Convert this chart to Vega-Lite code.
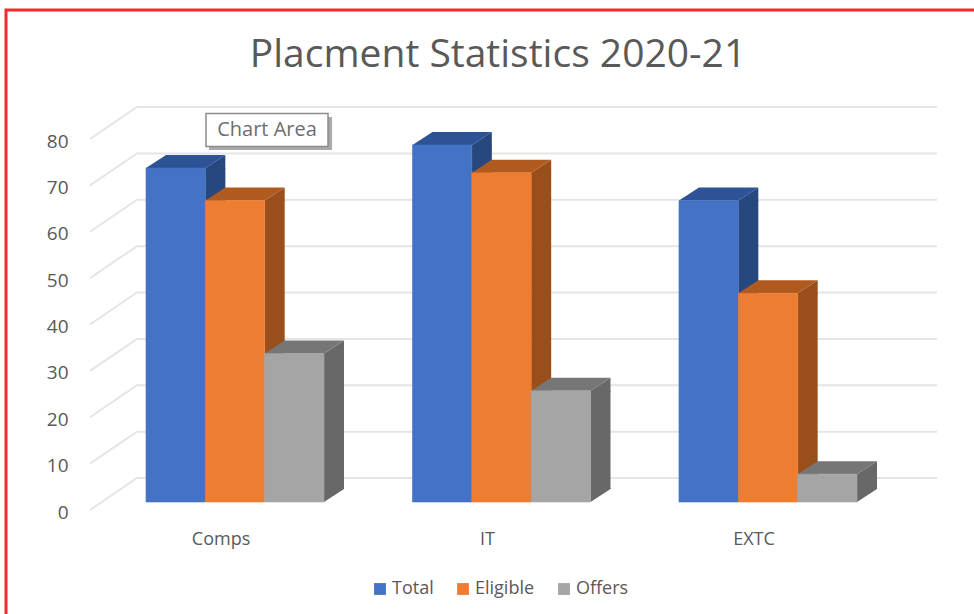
{
"$schema":"https://vega.github.io/schema/vega-lite/v6.json",
"autosize":"none",
"padding":{"left":6,"top":10,"right":0,"bottom":0},
"width":980,"height":620,
"background":"#ffffff",
"view":{"stroke":"#f02c30","strokeWidth":3,"fill":"#ffffff"},
"title":{"text":"Placment Statistics 2020-21","font":"Open Sans","fontSize":39,"fontWeight":"normal","color":"#595959","anchor":"middle","frame":"group","offset":-65,"dx":2},
"config":{"font":"Open Sans"},
"datasets":{
"bars":[
{"category":"Comps","series":"Total","value":72},
{"category":"Comps","series":"Eligible","value":65},
{"category":"Comps","series":"Offers","value":32},
{"category":"IT","series":"Total","value":77},
{"category":"IT","series":"Eligible","value":71},
{"category":"IT","series":"Offers","value":24},
{"category":"EXTC","series":"Total","value":65},
{"category":"EXTC","series":"Eligible","value":45},
{"category":"EXTC","series":"Offers","value":6}
],
"ticks":[{"v":0},{"v":10},{"v":20},{"v":30},{"v":40},{"v":50},{"v":60},{"v":70},{"v":80}],
"note":[{"category":"Comps","v":80,"label":"Chart Area"}]
},
"layer":[
{"data":{"name":"ticks"},
 "mark":{"type":"point","shape":"M-406 8L-359 -24H441","size":4,"filled":false,"stroke":"#e5e5e5","strokeWidth":2,"opacity":1},
 "encoding":{"y":{"field":"v","type":"quantitative","scale":{"domain":[0,80],"range":[492,121]},
   "axis":{"title":null,"values":[0,10,20,30,40,50,60,70,80],"grid":false,"domain":false,"ticks":false,"offset":-84,"labelPadding":22,"labelOffset":10,"labelFontSize":19,"labelColor":"#595959","labelFont":"Open Sans"}}}},
{"data":{"name":"bars"},
 "mark":{"type":"rule","strokeWidth":20,"strokeCap":"butt","xOffset":{"expr":"datum.series==='Total'?-19.66:datum.series==='Eligible'?39.67:99"},"y2Offset":-13,"opacity":1},
 "encoding":{
  "x":{"field":"category","type":"nominal","sort":["Comps","IT","EXTC"],"scale":{"range":[140,851],"paddingInner":0.332,"paddingOuter":0},
    "axis":{"title":null,"domain":false,"ticks":false,"labelAngle":0,"offset":-100,"labelPadding":0,"labelOffset":-14,"labelFontSize":18,"labelColor":"#595959","labelFont":"Open Sans"}},
  "y":{"field":"value","type":"quantitative","stack":null},
  "y2":{"datum":0},
  "color":{"field":"series","type":"nominal","legend":null,"scale":{"domain":["Total","Eligible","Offers"],"range":["#27477f","#9a4f1b","#686868"]}}
 }},
{"data":{"name":"bars"},
 "mark":{"type":"point","filled":true,"opacity":1,"size":4,"strokeWidth":0,"shape":"M29.67 0L49.67 -13V1H29.67Z"},
 "encoding":{
  "x":{"field":"category","type":"nominal","sort":["Comps","IT","EXTC"]},
  "xOffset":{"field":"series","type":"nominal","sort":["Total","Eligible","Offers"]},
  "y":{"field":"value","type":"quantitative"},
  "color":{"field":"series","type":"nominal","legend":null,"scale":{"domain":["Total","Eligible","Offers"],"range":["#27477f","#9a4f1b","#686868"]}}
 }},
{"data":{"name":"bars"},
 "mark":{"type":"point","filled":true,"opacity":1,"size":4,"strokeWidth":0,"shape":"M29.67 0V-14H49.67V-13Z"},
 "encoding":{
  "x":{"field":"category","type":"nominal","sort":["Comps","IT","EXTC"]},
  "xOffset":{"field":"series","type":"nominal","sort":["Total","Eligible","Offers"]},
  "y":{"datum":0},
  "color":{"field":"series","type":"nominal","legend":null,"scale":{"domain":["Total","Eligible","Offers"],"range":["#27477f","#9a4f1b","#686868"]}}
 }},
{"data":{"name":"bars"},
 "mark":{"type":"point","filled":true,"opacity":1,"size":4,"strokeWidth":0,"shape":"M-29.67 0L-9.67 -13H49.67L29.67 0Z"},
 "encoding":{
  "x":{"field":"category","type":"nominal","sort":["Comps","IT","EXTC"]},
  "xOffset":{"field":"series","type":"nominal","sort":["Total","Eligible","Offers"]},
  "y":{"field":"value","type":"quantitative"},
  "color":{"field":"series","type":"nominal","legend":null,"scale":{"domain":["Total","Eligible","Offers"],"range":["#2d5296","#b05a20","#767676"]}}
 }},
{"data":{"name":"bars"},
 "mark":{"type":"bar","strokeWidth":0.6},
 "encoding":{
  "x":{"field":"category","type":"nominal","sort":["Comps","IT","EXTC"]},
  "xOffset":{"field":"series","type":"nominal","sort":["Total","Eligible","Offers"]},
  "y":{"field":"value","type":"quantitative","stack":null},
  "y2":{"datum":0},
  "stroke":{"field":"series","type":"nominal","legend":null,"scale":{"domain":["Total","Eligible","Offers"],"range":["#4472c4","#ed7d31","#a5a5a5"]}},
  "color":{"field":"series","type":"nominal","scale":{"domain":["Total","Eligible","Offers"],"range":["#4472c4","#ed7d31","#a5a5a5"]},
   "legend":{"title":null,"orient":"none","legendX":365,"legendY":570,"direction":"horizontal","symbolType":"square","symbolSize":140,"symbolStrokeWidth":0,"labelFontSize":18,"labelColor":"#595959","labelFont":"Open Sans","columnPadding":20,"labelOffset":3}}
 }},
{"data":{"name":"note"},
 "mark":{"type":"point","filled":true,"opacity":1,"size":4,"strokeWidth":0,"color":"#aaaaaa","shape":"M-58 -13H65V20H-58Z","xOffset":32,"yOffset":-1},
 "encoding":{"x":{"field":"category","type":"nominal","sort":["Comps","IT","EXTC"]},"y":{"field":"v","type":"quantitative"}}},
{"data":{"name":"note"},
 "mark":{"type":"point","filled":true,"opacity":1,"size":4,"fill":"#ffffff","stroke":"#8c8c8c","strokeWidth":1.5,"shape":"M-61 -16.5H61V16.5H-61Z","xOffset":32,"yOffset":-1},
 "encoding":{"x":{"field":"category","type":"nominal","sort":["Comps","IT","EXTC"]},"y":{"field":"v","type":"quantitative"}}},
{"data":{"name":"note"},
 "mark":{"type":"text","fontSize":20,"font":"Open Sans","color":"#6e6e6e","xOffset":32,"yOffset":-1,"align":"center","baseline":"middle"},
 "encoding":{"x":{"field":"category","type":"nominal","sort":["Comps","IT","EXTC"]},"y":{"field":"v","type":"quantitative"},"text":{"field":"label"}}}
],
"resolve":{"scale":{"color":"independent","stroke":"independent"}}
}
